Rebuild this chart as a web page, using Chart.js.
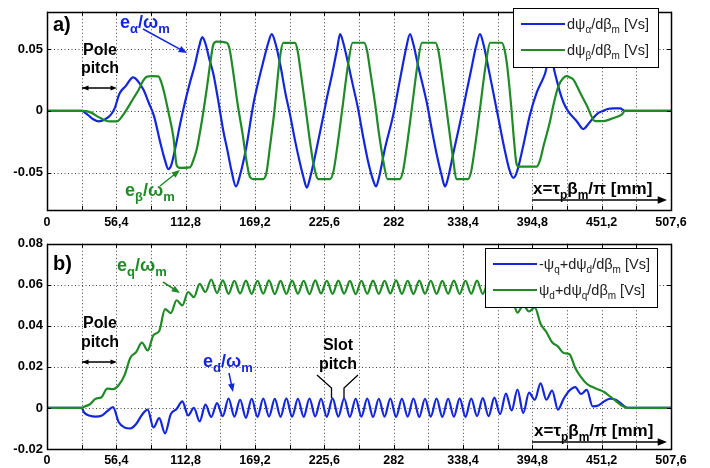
<!DOCTYPE html>
<html>
<head>
<meta charset="utf-8">
<script src="https://cdn.jsdelivr.net/npm/chart.js@4.4.0/dist/chart.umd.min.js"></script>
<style>
  body { margin: 0; background: #fff; width: 710px; height: 468px; overflow: hidden; position: relative; }
  canvas { position: absolute; left: 0; }
  #chartA { top: 0; }
  #chartB { top: 232px; }
</style>
</head>
<body>
<canvas id="chartA" width="710" height="232"></canvas>
<canvas id="chartB" width="710" height="236"></canvas>
<script>
// x axis: every 28.2 mm a grid line, every 56.4 mm a label
var xTickVals = [0, 28.2, 56.4, 84.6, 112.8, 141, 169.2, 197.4, 225.6, 253.8, 282,
                 310.2, 338.4, 366.6, 394.8, 423, 451.2, 479.4, 507.6];
var xTickLabels = ["0", "56,4", "112,8", "169,2", "225,6", "282", "338,4", "394,8", "451,2", "507,6"];

var yTicksA = [-0.05, 0, 0.05];
var yLabelsA = ["-0.05", "0", "0.05"];
var yTicksB = [-0.02, 0, 0.02, 0.04, 0.06, 0.08];
var yLabelsB = ["-0.02", "0", "0.02", "0.04", "0.06", "0.08"];

// a) d psi_alpha / d beta_m  [x mm, Vs]
var alphaPts = [[0,0],[28.2,0],[33,-0.003],[38,-0.007],[42,-0.0085],[47,-0.007],[52,-0.003],[55,0.002],
  [59,0.014],[64,0.020],[70,0.027],[74,0.024],[78.5,0.017],[83,0.006],[87,-0.004],[92,-0.025],[96,-0.040],
  [98.7,-0.047],[101,-0.044],[105,-0.027],[108.2,-0.011],[112,0.006],[116.3,0.023],[120,0.036],[124,0.053],
  [126.3,0.0595],[129,0.054],[132,0.042],[135.3,0.030],[139,0.010],[143.4,-0.016],[147,-0.033],[150,-0.048],
  [153.7,-0.061],[157,-0.052],[162,-0.030],[167.8,0.005],[172,0.024],[176,0.040],[180,0.055],[182.8,0.062],
  [186,0.054],[190,0.036],[194,0.014],[197.7,-0.003],[202,-0.025],[206,-0.043],[209,-0.055],[211.3,-0.062],
  [214,-0.054],[219,-0.032],[224,-0.008],[228,0.012],[232,0.030],[236,0.050],[238.4,0.062],[241,0.055],
  [245,0.038],[249,0.020],[253,0.002],[257,-0.020],[261,-0.040],[265,-0.055],[267.7,-0.061],[270,-0.054],
  [275,-0.030],[281.7,-0.003],[285,0.014],[289,0.035],[292,0.050],[295.3,0.062],[298,0.054],[302,0.036],
  [308.9,0.007],[313,-0.015],[317,-0.035],[321,-0.052],[323.8,-0.061],[326,-0.055],[331,-0.032],[337,-0.005],
  [341,0.014],[345,0.033],[349,0.052],[352.2,0.062],[355,0.054],[359,0.035],[364,0.010],[368,-0.010],
  [372,-0.030],[376,-0.047],[379.3,-0.054],[382,-0.050],[387,-0.030],[392.9,-0.003],[398.4,0.015],
  [405.1,0.030],[409.2,0.045],[413.3,0.030],[417.3,0.015],[420.5,0.006],[424.1,-0.0005],[430.9,-0.0083],
  [436.3,-0.0147],[440,-0.011],[444.4,-0.0057],[448,-0.002],[452.5,0],[456,0.0015],[460.7,0.002],
  [466.1,0.002],[470.2,0],[507.6,0]];

// a) d psi_beta / d beta_m
var betaPts = [[0,0],[28.2,0],[35,-0.001],[42,-0.005],[47,-0.0075],[51.3,-0.0085],[56.7,-0.0085],[62.1,-0.003],
  [66,0.003],[70.2,0.010],[74,0.016],[78,0.024],[81.1,0.0275],[85,0.028],[90.6,0.0278],[93,0.023],[95,0.016],
  [99,-0.002],[102.8,-0.021],[105.5,-0.044],[108,-0.046],[116.3,-0.0456],[119,-0.040],[121.8,-0.031],
  [126,-0.008],[129.9,0.0175],[133,0.040],[135.3,0.0536],[138,0.056],[146.2,0.055],[148.5,0.050],
  [151.6,0.0304],[155,0.006],[159,-0.018],[162.5,-0.0417],[165.1,-0.0533],[168,-0.055],[175.9,-0.055],
  [178.5,-0.050],[181.4,-0.0287],[185,0.000],[189.5,0.0433],[192.2,0.0549],[201.7,0.0549],[204,0.048],
  [205.8,0.0356],[210,0.005],[213,-0.018],[216.6,-0.0417],[220.7,-0.055],[230.2,-0.055],[233,-0.049],
  [236,-0.030],[240,0.000],[245,0.038],[248.6,0.055],[258,0.055],[260.5,0.048],[262.5,0.035],[267,0.005],
  [270,-0.018],[273.5,-0.040],[277,-0.055],[287,-0.055],[289.5,-0.049],[292.5,-0.030],[296.5,0.000],
  [301.5,0.038],[305,0.055],[316,0.055],[318.5,0.048],[320.5,0.035],[324.5,0.005],[327.5,-0.018],
  [330.5,-0.040],[333,-0.055],[342.5,-0.055],[345,-0.049],[348,-0.030],[352,0.000],[357,0.038],[360.5,0.055],
  [370,0.055],[372.5,0.048],[374.5,0.035],[377.5,0.005],[380,-0.025],[382,-0.043],[384,-0.045],[398.4,-0.045],
  [401,-0.040],[404,-0.028],[409.2,-0.0083],[412,0.005],[416,0.020],[420,0.0265],[422.8,0.028],[425.5,0.027],
  [428.2,0.0253],[433.6,0.0149],[439,0.0046],[445.8,-0.0083],[452.5,-0.0083],[460.7,-0.0057],[467.5,-0.003],
  [470.2,0],[507.6,0]];

// b) sample positions (mm), read at the slot-ripple extremes
var xB = [0, 28.2, 30.2, 34.9, 39.6, 44.3, 49.0, 53.7, 58.4, 63.1,
  67.8, 72.5, 77.2, 81.9, 86.6, 91.3, 96.0, 100.7, 105.4, 110.1,
  114.8, 119.5, 124.2, 128.9, 133.6, 138.3, 143.0, 147.7, 152.4, 157.1,
  161.8, 166.5, 171.2, 175.9, 180.6, 185.3, 190.0, 194.7, 199.4, 204.1,
  208.8, 213.5, 218.2, 222.9, 227.6, 232.3, 237.0, 241.7, 246.4, 251.1,
  255.8, 260.5, 265.2, 269.9, 274.6, 279.3, 284.0, 288.7, 293.4, 298.1,
  302.8, 307.5, 312.2, 316.9, 321.6, 326.3, 331.0, 335.7, 340.4, 345.1,
  349.8, 354.5, 359.2, 363.9, 368.6, 373.3, 378.0, 382.7, 387.4, 392.1,
  396.8, 401.5, 406.2, 410.9, 415.6, 420.3, 425.0, 429.7, 434.4, 439.1,
  443.8, 448.5, 453.2, 457.9, 462.6, 467.3, 472.0, 507.6];

// b) -psi_q + d psi_d / d beta_m
var edY = [0, 0, -0.0022, -0.0038, -0.0042, -0.0038, -0.0016, 0.0004, -0.0070, -0.0095,
  -0.0100, -0.0078, -0.0034, -0.0008, -0.0095, -0.0050, -0.0124, -0.0030, -0.0005, 0.0032,
  -0.0036, 0.0000, -0.0066, 0.0016, -0.0044, 0.0024, -0.0040, 0.0046, -0.0042, 0.0040,
  -0.0048, 0.0045, -0.0043, 0.0046, -0.0042, 0.0044, -0.0043, 0.0047, -0.0042, 0.0045,
  -0.0043, 0.0046, -0.0041, 0.0045, -0.0043, 0.0047, -0.0042, 0.0046, -0.0043, 0.0045,
  -0.0042, 0.0046, -0.0044, 0.0045, -0.0042, 0.0046, -0.0043, 0.0045, -0.0042, 0.0046,
  -0.0044, 0.0045, -0.0042, 0.0046, -0.0043, 0.0045, -0.0042, 0.0047, -0.0043, 0.0046,
  -0.0040, 0.0048, -0.0040, 0.0050, -0.0030, 0.0070, -0.0012, 0.0090, -0.0025, 0.0075,
  0.0040, 0.0120, 0.0040, 0.0085, -0.0008, 0.0045, 0.0085, 0.0102, 0.0068, 0.0088,
  0.0008, 0.0012, 0.0032, 0.0045, 0.0040, 0.0020, 0, 0];

// b) psi_d + d psi_q / d beta_m
var eqY = [0, 0, 0.0006, 0.0018, 0.0045, 0.0052, 0.0094, 0.0092, 0.0112, 0.0160,
  0.0245, 0.0272, 0.0318, 0.0280, 0.0355, 0.0375, 0.0482, 0.0462, 0.0525, 0.0500,
  0.0565, 0.0540, 0.0605, 0.0565, 0.0626, 0.0560, 0.0622, 0.0556, 0.0620, 0.0558,
  0.0621, 0.0556, 0.0620, 0.0557, 0.0622, 0.0555, 0.0619, 0.0556, 0.0621, 0.0557,
  0.0620, 0.0555, 0.0622, 0.0558, 0.0620, 0.0556, 0.0621, 0.0557, 0.0619, 0.0555,
  0.0620, 0.0557, 0.0621, 0.0556, 0.0620, 0.0558, 0.0622, 0.0556, 0.0620, 0.0555,
  0.0621, 0.0557, 0.0620, 0.0556, 0.0619, 0.0557, 0.0621, 0.0556, 0.0620, 0.0557,
  0.0621, 0.0556, 0.0618, 0.0555, 0.0600, 0.0520, 0.0530, 0.0465, 0.0500, 0.0470,
  0.0490, 0.0410, 0.0370, 0.0320, 0.0300, 0.0268, 0.0262, 0.0195, 0.0150, 0.0118,
  0.0102, 0.0090, 0.0078, 0.0056, 0.0035, 0.0012, 0, 0];

var BLUE = "#1426dc";
var GREEN = "#1f8a26";
var FONT = "'Liberation Sans', Arial, sans-serif";

Chart.defaults.font.family = FONT;
Chart.defaults.color = "#000";

// text with subscripts: parts = [[text, isSub], ...]
function drawRich(ctx, parts, x, y, size, weight, color, align) {
  var sub = Math.round(size * 0.7);
  var w = 0;
  parts.forEach(function (p) {
    ctx.font = weight + " " + (p[1] ? sub : size) + "px " + FONT;
    w += ctx.measureText(p[0]).width;
  });
  var cx = align === "center" ? x - w / 2 : x;
  ctx.fillStyle = color;
  ctx.textAlign = "left";
  ctx.textBaseline = "alphabetic";
  parts.forEach(function (p) {
    ctx.font = weight + " " + (p[1] ? sub : size) + "px " + FONT;
    ctx.fillText(p[0], cx, p[1] ? y + size * 0.3 : y);
    cx += ctx.measureText(p[0]).width;
  });
}

function head(ctx, x, y, ang, len) {
  ctx.beginPath();
  ctx.moveTo(x, y);
  ctx.lineTo(x - len * Math.cos(ang - 0.38), y - len * Math.sin(ang - 0.38));
  ctx.lineTo(x - len * Math.cos(ang + 0.38), y - len * Math.sin(ang + 0.38));
  ctx.closePath();
  ctx.fill();
}

function arrow(ctx, x1, y1, x2, y2, color, both, len) {
  len = len || 9;
  ctx.save();
  ctx.strokeStyle = color;
  ctx.fillStyle = color;
  ctx.lineWidth = 1.5;
  var ang = Math.atan2(y2 - y1, x2 - x1);
  ctx.beginPath();
  ctx.moveTo(x1, y1);
  ctx.lineTo(x2 - Math.cos(ang) * 4, y2 - Math.sin(ang) * 4);
  ctx.stroke();
  head(ctx, x2, y2, ang, len);
  if (both) head(ctx, x1, y1, ang + Math.PI, len);
  ctx.restore();
}

function drawLegend(ctx, box, rows) {
  ctx.save();
  ctx.fillStyle = "#fff";
  ctx.fillRect(box.x, box.y, box.w, box.h);
  ctx.strokeStyle = "#000";
  ctx.lineWidth = 1;
  ctx.strokeRect(box.x + 0.5, box.y + 0.5, box.w, box.h);
  rows.forEach(function (r) {
    ctx.strokeStyle = r.color;
    ctx.lineWidth = 2;
    ctx.beginPath();
    ctx.moveTo(box.lx1, r.y);
    ctx.lineTo(box.lx2, r.y);
    ctx.stroke();
    drawRich(ctx, r.parts, box.tx, r.y + 5, 14.5, "normal", "#222");
  });
  ctx.restore();
}

// dotted grid under the curves
var gridPlugin = {
  id: "dotgrid",
  beforeDatasetsDraw: function (chart) {
    var ctx = chart.ctx, a = chart.chartArea;
    var xs = chart.scales.x, ys = chart.scales.y;
    ctx.save();
    ctx.strokeStyle = "#444";
    ctx.lineWidth = 1;
    ctx.setLineDash([1, 2.5]);
    ctx.beginPath();
    xs.ticks.forEach(function (t) {
      var px = Math.round(xs.getPixelForValue(t.value)) + 0.5;
      ctx.moveTo(px, a.top); ctx.lineTo(px, a.bottom);
    });
    ys.ticks.forEach(function (t) {
      var py = Math.round(ys.getPixelForValue(t.value)) + 0.5;
      ctx.moveTo(a.left, py); ctx.lineTo(a.right, py);
    });
    ctx.stroke();
    ctx.restore();
  }
};

// frame and inward tick marks, like the original plotting tool
var framePlugin = {
  id: "frame",
  afterDatasetsDraw: function (chart) {
    var ctx = chart.ctx, a = chart.chartArea;
    var xs = chart.scales.x, ys = chart.scales.y;
    ctx.save();
    ctx.strokeStyle = "#000";
    ctx.lineWidth = 1;
    ctx.beginPath();
    xs.ticks.forEach(function (t) {
      var px = Math.round(xs.getPixelForValue(t.value)) + 0.5;
      ctx.moveTo(px, a.bottom); ctx.lineTo(px, a.bottom - 4);
      ctx.moveTo(px, a.top); ctx.lineTo(px, a.top + 4);
    });
    ys.ticks.forEach(function (t) {
      var py = Math.round(ys.getPixelForValue(t.value)) + 0.5;
      ctx.moveTo(a.left, py); ctx.lineTo(a.left + 4, py);
      ctx.moveTo(a.right, py); ctx.lineTo(a.right - 4, py);
    });
    ctx.stroke();
    ctx.lineWidth = 1.5;
    ctx.strokeRect(Math.round(a.left) + 0.5, Math.round(a.top) + 0.5,
      Math.round(a.right - a.left), Math.round(a.bottom - a.top));
    ctx.restore();
  }
};

function xAxis(height, pad) {
  return {
    type: "linear", min: 0, max: 507.6,
    afterBuildTicks: function (s) { s.ticks = xTickVals.map(function (v) { return { value: v }; }); },
    afterFit: function (s) { s.height = height; },
    ticks: {
      autoSkip: false, maxRotation: 0, padding: pad,
      font: { size: 12.5, weight: "bold" },
      callback: function (v, i) { return i % 2 === 0 ? xTickLabels[i / 2] : ""; }
    },
    grid: { display: false, drawTicks: false },
    border: { display: false }
  };
}

function yAxis(min, max, ticks, labels) {
  return {
    min: min, max: max,
    afterBuildTicks: function (s) { s.ticks = ticks.map(function (v) { return { value: v }; }); },
    afterFit: function (s) { s.width = 47; },
    ticks: {
      padding: 4, font: { size: 13, weight: "bold" },
      callback: function (v, i) { return labels[i]; }
    },
    grid: { display: false, drawTicks: false },
    border: { display: false }
  };
}

function series(pts, color, order) {
  return {
    data: pts, borderColor: color, borderWidth: 2.2, pointRadius: 0,
    cubicInterpolationMode: "monotone", fill: false, order: order
  };
}

var annotA = {
  id: "annotA",
  afterDraw: function (chart) {
    var ctx = chart.ctx;
    drawRich(ctx, [["a)", 0]], 53, 31, 20, "bold", "#000");
    drawRich(ctx, [["e", 0], ["\u03b1", 1], ["/\u03c9", 0], ["m", 1]], 120, 28, 18, "bold", BLUE);
    arrow(ctx, 143, 29, 187, 53, BLUE);
    drawRich(ctx, [["Pole", 0]], 100, 55, 16, "bold", "#000", "center");
    drawRich(ctx, [["pitch", 0]], 100, 73, 16, "bold", "#000", "center");
    arrow(ctx, 82, 88, 117, 88, "#000", true, 7);
    drawRich(ctx, [["e", 0], ["\u03b2", 1], ["/\u03c9", 0], ["m", 1]], 125, 196, 18, "bold", GREEN);
    arrow(ctx, 160, 186, 180, 170, GREEN);
    drawRich(ctx, [["x=\u03c4", 0], ["p", 1], ["\u03b2", 0], ["m", 1], ["/\u03c0 [mm]", 0]], 533, 194, 17, "bold", "#000");
    arrow(ctx, 532, 200, 667, 200, "#000", false, 10);
    drawLegend(ctx, { x: 513, y: 8, w: 145, h: 59, lx1: 521, lx2: 565, tx: 567 }, [
      { y: 24, color: BLUE, parts: [["d\u03c8", 0], ["\u03b1", 1], ["/d\u03b2", 0], ["m", 1], [" [Vs]", 0]] },
      { y: 50, color: GREEN, parts: [["d\u03c8", 0], ["\u03b2", 1], ["/d\u03b2", 0], ["m", 1], [" [Vs]", 0]] }
    ]);
  }
};

var annotB = {
  id: "annotB",
  afterDraw: function (chart) {
    var ctx = chart.ctx;
    drawRich(ctx, [["b)", 0]], 53, 38, 20, "bold", "#000");
    drawRich(ctx, [["e", 0], ["q", 1], ["/\u03c9", 0], ["m", 1]], 117, 39, 18, "bold", GREEN);
    arrow(ctx, 163, 50, 180, 61, GREEN);
    drawRich(ctx, [["Pole", 0]], 100, 96, 16, "bold", "#000", "center");
    drawRich(ctx, [["pitch", 0]], 100, 115, 16, "bold", "#000", "center");
    arrow(ctx, 82, 130, 117, 130, "#000", true, 7);
    drawRich(ctx, [["e", 0], ["d", 1], ["/\u03c9", 0], ["m", 1]], 203, 135, 18, "bold", BLUE);
    arrow(ctx, 229, 141, 233, 160, BLUE);
    drawRich(ctx, [["Slot", 0]], 338, 118, 16, "bold", "#000", "center");
    drawRich(ctx, [["pitch", 0]], 338, 137, 16, "bold", "#000", "center");
    ctx.save();
    ctx.strokeStyle = "#000";
    ctx.lineWidth = 1.3;
    ctx.beginPath();
    ctx.moveTo(317, 143); ctx.lineTo(331.5, 156); ctx.lineTo(331.5, 166);
    ctx.moveTo(358, 143); ctx.lineTo(344, 156); ctx.lineTo(344, 166);
    ctx.stroke();
    ctx.restore();
    drawRich(ctx, [["x=\u03c4", 0], ["p", 1], ["\u03b2", 0], ["m", 1], ["/\u03c0 [mm]", 0]], 534, 204, 17, "bold", "#000");
    arrow(ctx, 532, 210, 667, 210, "#000", false, 10);
    drawLegend(ctx, { x: 485, y: 16, w: 172, h: 59, lx1: 493, lx2: 537, tx: 539 }, [
      { y: 32, color: BLUE, parts: [["-\u03c8", 0], ["q", 1], ["+d\u03c8", 0], ["d", 1], ["/d\u03b2", 0], ["m", 1], [" [Vs]", 0]] },
      { y: 58, color: GREEN, parts: [["\u03c8", 0], ["d", 1], ["+d\u03c8", 0], ["q", 1], ["/d\u03b2", 0], ["m", 1], [" [Vs]", 0]] }
    ]);
  }
};

function toXY(pts) { return pts.map(function (p) { return { x: p[0], y: p[1] }; }); }
function zipXY(xs, ys) { return xs.map(function (x, i) { return { x: x, y: ys[i] }; }); }

var commonPlugins = { legend: { display: false }, tooltip: { enabled: false } };

new Chart(document.getElementById("chartA"), {
  type: "line",
  data: { datasets: [series(toXY(alphaPts), BLUE, 1), series(toXY(betaPts), GREEN, 0)] },
  options: {
    responsive: false, animation: false,
    layout: { padding: { top: 3, right: 39, left: 0, bottom: 0 } },
    scales: { x: xAxis(22, 5), y: yAxis(-0.08, 0.08, yTicksA, yLabelsA) },
    plugins: commonPlugins
  },
  plugins: [gridPlugin, framePlugin, annotA]
});

new Chart(document.getElementById("chartB"), {
  type: "line",
  data: { datasets: [series(zipXY(xB, edY), BLUE, 1), series(zipXY(xB, eqY), GREEN, 0)] },
  options: {
    responsive: false, animation: false,
    layout: { padding: { top: 11, right: 39, left: 0, bottom: 0 } },
    scales: { x: xAxis(19, 4), y: yAxis(-0.02, 0.08, yTicksB, yLabelsB) },
    plugins: commonPlugins
  },
  plugins: [gridPlugin, framePlugin, annotB]
});
</script>
</body>
</html>
